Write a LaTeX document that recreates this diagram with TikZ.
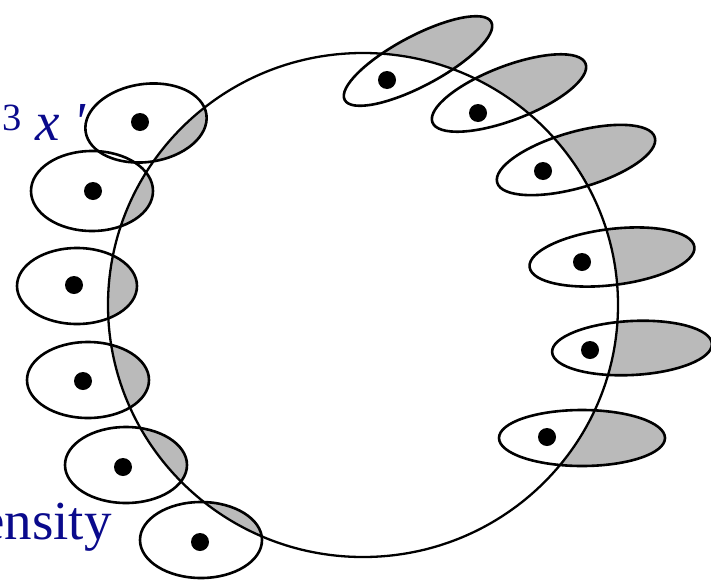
\documentclass[tikz,border=0pt]{standalone}
\usepackage{fontspec}
\setmainfont{Liberation Serif}
\usetikzlibrary{positioning}
\definecolor{labelblue}{RGB}{10,10,140}

\begin{document}
\begin{tikzpicture}[
    x=1pt, y=-1pt,
    % Define styles
    cellline/.style={line width=2.6pt, draw=black},
    boundary/.style={line width=2.3pt, draw=black},
    overlap/.style={fill=black!27},
    nucleus/.style={circle, fill=black, inner sep=0pt, minimum size=18pt},
    labeltext/.style={text=labelblue, font=\fontsize{55}{60}\selectfont, inner sep=0pt, anchor=base west}
]
    \useasboundingbox (0,0) rectangle (711,581);
    \clip (0,0) rectangle (711,581);

    % 1. Cells on the left: the shaded part lies inside the boundary
    \foreach \cx/\cy/\rx/\ry/\ang/\nx/\ny [count=\i] in {146/123/61/39/8/140/122, 92/191/61/40/0/93/191,
        77/286/60/38/0/74/285, 88/380/61/38/0/83/381, 126/465/61/38/0/123/467, 201/540/61/38/0/200/542}{
        \begin{scope}
            \clip[rotate around={\ang:(\cx,\cy)}] (\cx,\cy) ellipse [x radius=\rx, y radius=\ry];
            \fill[overlap] (363,305) ellipse [x radius=255, y radius=252];
        \end{scope}
        \draw[cellline, rotate around={\ang:(\cx,\cy)}] (\cx,\cy) ellipse [x radius=\rx, y radius=\ry];
        \node[nucleus] (left\i) at (\nx,\ny) {};
    }

    % 2. Cells on the right: the shaded part lies outside the boundary
    \foreach \cx/\cy/\rx/\ry/\ang/\nx/\ny [count=\i] in {418/61/83/25/28/387/80, 509/93/82/27/21/478/113,
        576/160/82/28/16/543/171, 612/257/83/28/7/582/262, 632/348/80/27/3/590/350, 582/438/83/28/0/547/437}{
        \begin{scope}
            \clip[rotate around={\ang:(\cx,\cy)}] (\cx,\cy) ellipse [x radius=\rx, y radius=\ry];
            \fill[overlap, even odd rule] (0,0) rectangle (711,581) (363,305) ellipse [x radius=255, y radius=252];
        \end{scope}
        \draw[cellline, rotate around={\ang:(\cx,\cy)}] (\cx,\cy) ellipse [x radius=\rx, y radius=\ry];
        \node[nucleus] (right\i) at (\nx,\ny) {};
    }

    % 3. The boundary
    \draw[boundary] (363,305) ellipse [x radius=255, y radius=252];

    % 4. Cut-off labels
    \node[labeltext] (measure) at (2,140) {\textsuperscript{3} \textit{x} \textit{\textquotesingle}};
    \node[labeltext] (density) at (-20,539) {ensity};

\end{tikzpicture}
\end{document}
